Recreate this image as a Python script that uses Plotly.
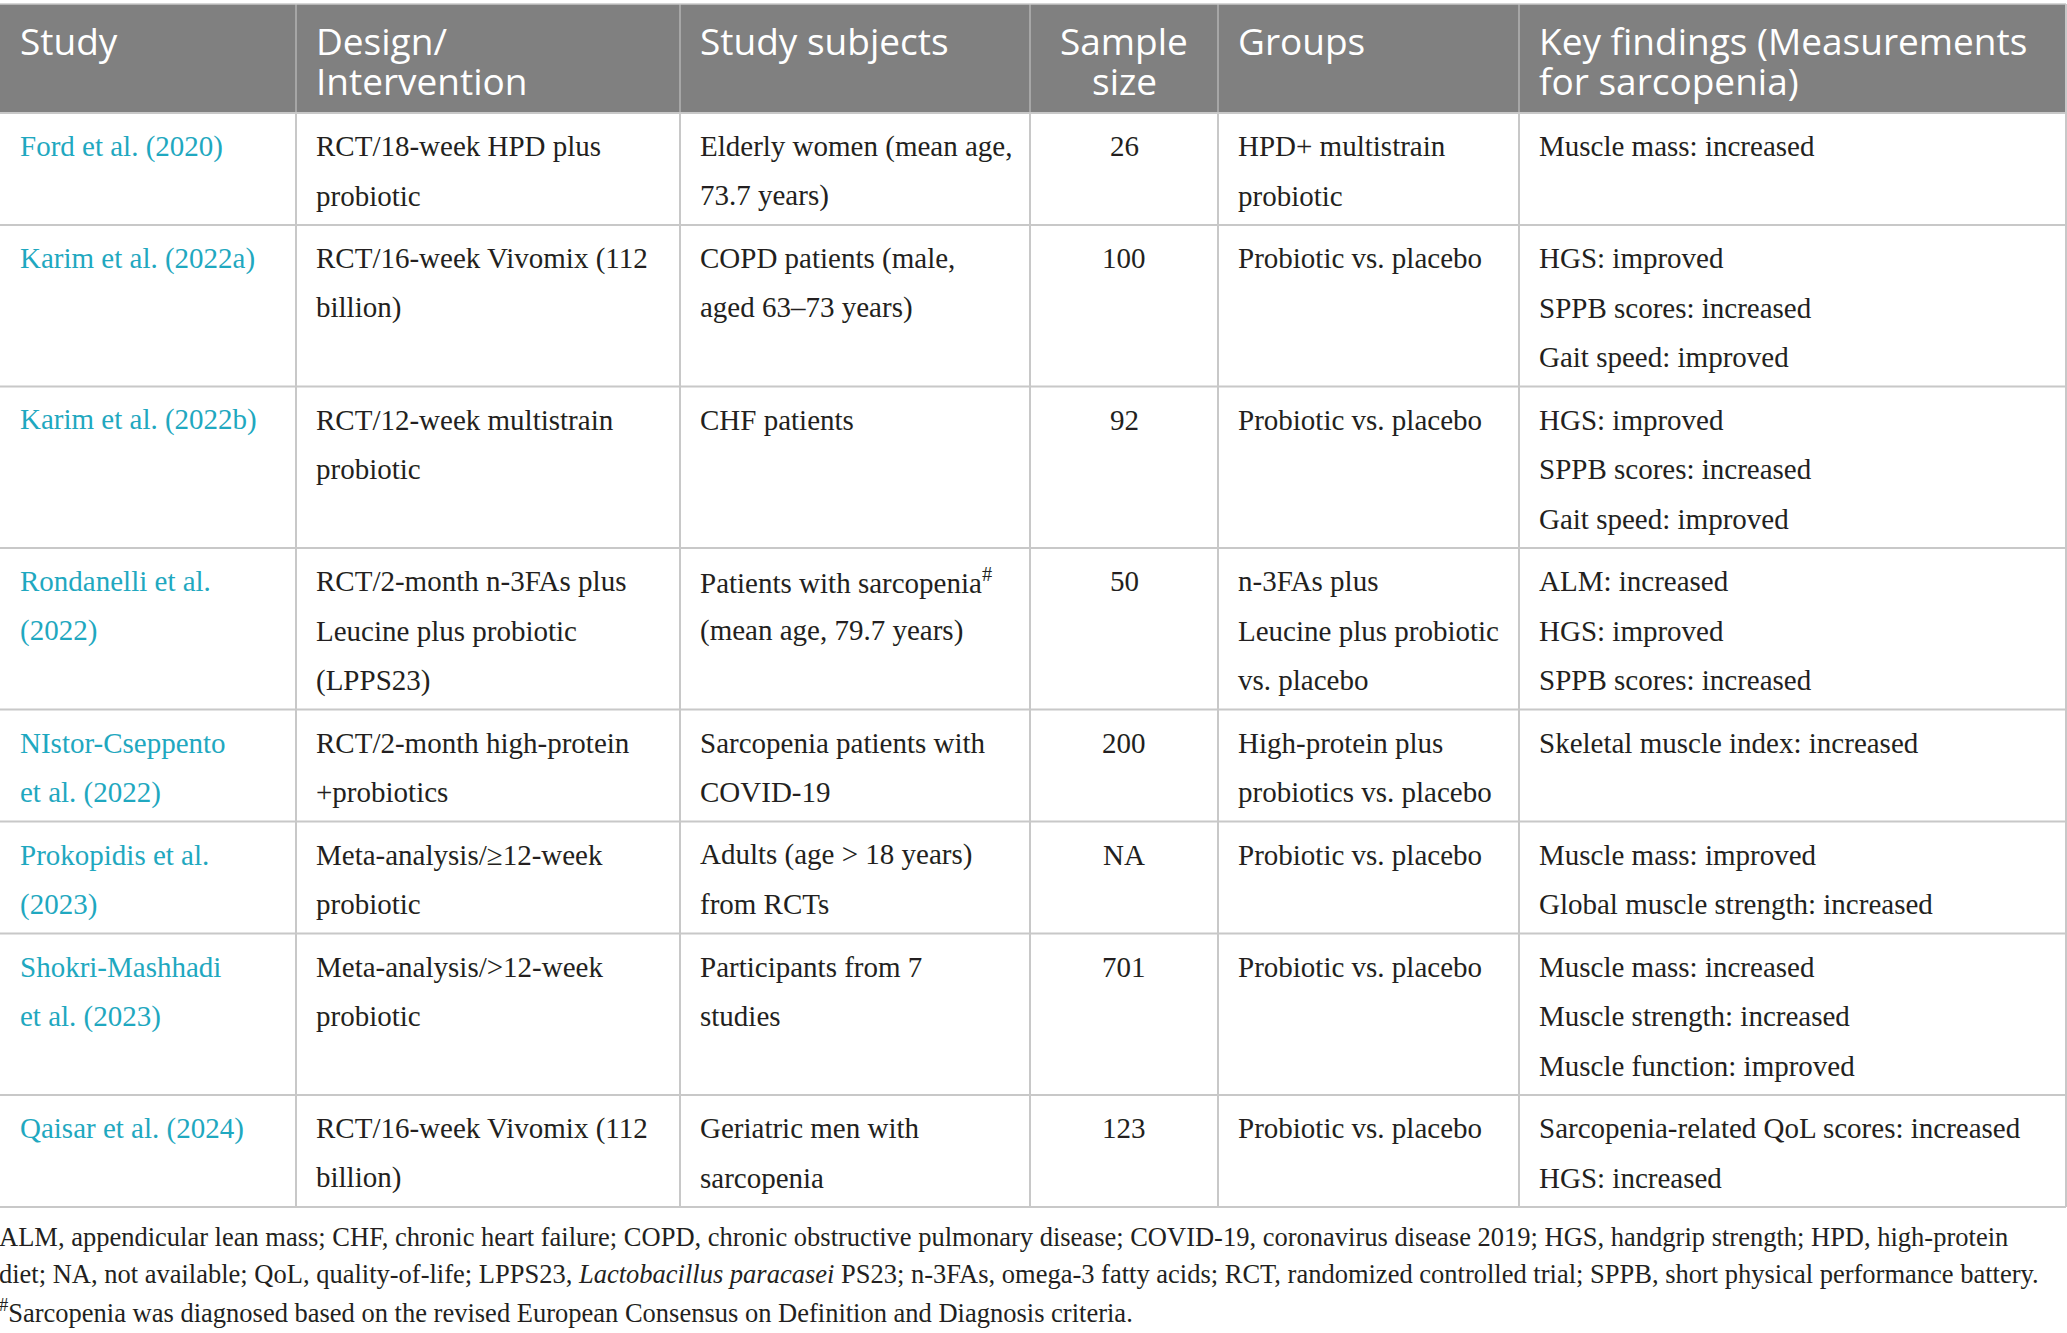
import plotly.graph_objects as go

# table content
headers = ["Study", "Design/<br>Intervention", "Study subjects", "Sample<br>size", "Groups",
           "Key findings (Measurements<br>for sarcopenia)"]
studies = ["Ford et al. (2020)", "Karim et al. (2022a)", "Karim et al. (2022b)",
           "Rondanelli et al.<br>(2022)", "NIstor-Cseppento<br>et al. (2022)",
           "Prokopidis et al.<br>(2023)", "Shokri-Mashhadi<br>et al. (2023)", "Qaisar et al. (2024)"]
designs = ["RCT/18-week HPD plus<br>probiotic", "RCT/16-week Vivomix (112<br>billion)",
           "RCT/12-week multistrain<br>probiotic",
           "RCT/2-month n-3FAs plus<br>Leucine plus probiotic<br>(LPPS23)",
           "RCT/2-month high-protein<br>+probiotics", "Meta-analysis/≥12-week<br>probiotic",
           "Meta-analysis/>12-week<br>probiotic", "RCT/16-week Vivomix (112<br>billion)"]
subjects = ["Elderly women (mean age,<br>73.7 years)", "COPD patients (male,<br>aged 63–73 years)",
            "CHF patients", "Patients with sarcopenia<sup>#</sup><br>(mean age, 79.7 years)",
            "Sarcopenia patients with<br>COVID-19", "Adults (age > 18 years)<br>from RCTs",
            "Participants from 7<br>studies", "Geriatric men with<br>sarcopenia"]
sample_sizes = ["26", "100", "92", "50", "200", "NA", "701", "123"]
groups = ["HPD+ multistrain<br>probiotic", "Probiotic vs. placebo", "Probiotic vs. placebo",
          "n-3FAs plus<br>Leucine plus probiotic<br>vs. placebo",
          "High-protein plus<br>probiotics vs. placebo", "Probiotic vs. placebo",
          "Probiotic vs. placebo", "Probiotic vs. placebo"]
findings = ["Muscle mass: increased",
            "HGS: improved<br>SPPB scores: increased<br>Gait speed: improved",
            "HGS: improved<br>SPPB scores: increased<br>Gait speed: improved",
            "ALM: increased<br>HGS: improved<br>SPPB scores: increased",
            "Skeletal muscle index: increased",
            "Muscle mass: improved<br>Global muscle strength: increased",
            "Muscle mass: increased<br>Muscle strength: increased<br>Muscle function: improved",
            "Sarcopenia-related QoL scores: increased<br>HGS: increased"]
footnotes = [
    "ALM, appendicular lean mass; CHF, chronic heart failure; COPD, chronic obstructive pulmonary disease; "
    "COVID-19, coronavirus disease 2019; HGS, handgrip strength; HPD, high-protein",
    "diet; NA, not available; QoL, quality-of-life; LPPS23, <i>Lactobacillus paracasei</i> PS23; "
    "n-3FAs, omega-3 fatty acids; RCT, randomized controlled trial; SPPB, short physical performance battery.",
    "<sup>#</sup>Sarcopenia was diagnosed based on the revised European Consensus on Definition and Diagnosis criteria.",
]

columns = [studies, designs, subjects, sample_sizes, groups, findings]

W, H = 2067, 1333
col_edges = [0, 296, 680, 1030, 1218, 1519, 2066]
col_align = ["left", "left", "left", "center", "left", "left"]
header_top, header_bottom = 4, 113
line_h = 49.5
pad_x = 18
header_gray = "#808080"
grid = "#c8c8c8"
link = "#1fa8c0"

fig = go.Figure()
shapes = []
ann = []

# header
shapes.append(dict(type="rect", x0=0, x1=col_edges[-1], y0=header_top, y1=header_bottom,
                   fillcolor=header_gray, line=dict(width=0), layer="below"))
for c, txt in enumerate(headers):
    for i, part in enumerate(txt.split("<br>")):
        if col_align[c] == "center":
            x, xa = (col_edges[c] + col_edges[c + 1]) / 2, "center"
        else:
            x, xa = col_edges[c] + pad_x, "left"
        ann.append(dict(x=x, y=40 + 40 * i, text=part, xanchor=xa, yanchor="middle",
                        font=dict(family="Open Sans", size=37, color="white")))
for xe in col_edges[1:-1]:
    shapes.append(dict(type="line", x0=xe, x1=xe, y0=header_top, y1=header_bottom,
                       line=dict(color="#a6a6a6", width=2)))

# body rows
y = header_bottom
row_edges = [y]
for r in range(len(studies)):
    n_lines = max(len(col[r].split("<br>")) for col in columns)
    h = 13 + line_h * n_lines
    for c, col in enumerate(columns):
        color = link if c == 0 else "#231f20"
        for i, part in enumerate(col[r].split("<br>")):
            if col_align[c] == "center":
                x, xa = (col_edges[c] + col_edges[c + 1]) / 2, "center"
            else:
                x, xa = col_edges[c] + pad_x, "left"
            ann.append(dict(x=x, y=y + 33 + line_h * i, text=part, xanchor=xa, yanchor="middle",
                            font=dict(family="Liberation Serif", size=29, color=color)))
    y += h
    row_edges.append(y)

for ye in row_edges:
    shapes.append(dict(type="line", x0=0, x1=col_edges[-1], y0=ye, y1=ye,
                       line=dict(color=grid, width=2)))
for xe in col_edges[1:]:
    shapes.append(dict(type="line", x0=xe, x1=xe, y0=header_bottom, y1=row_edges[-1],
                       line=dict(color=grid, width=2)))
shapes.append(dict(type="line", x0=0, x1=col_edges[-1], y0=header_top, y1=header_top,
                   line=dict(color=grid, width=1.5)))
shapes.append(dict(type="line", x0=col_edges[-1], x1=col_edges[-1], y0=header_top, y1=header_bottom,
                   line=dict(color=grid, width=2)))

# footnotes
for i, txt in enumerate(footnotes):
    ann.append(dict(x=0, xshift=-3, y=1237 + 37 * i, text=txt, xanchor="left", yanchor="middle",
                    font=dict(family="Liberation Serif", size=26.5, color="#231f20")))

for a in ann:
    a.update(xref="x", yref="y", showarrow=False)

fig.update_layout(
    width=W, height=H,
    margin=dict(l=0, r=0, t=0, b=0),
    paper_bgcolor="white", plot_bgcolor="white",
    xaxis=dict(range=[0, W], visible=False, fixedrange=True),
    yaxis=dict(range=[H, 0], visible=False, fixedrange=True),
    shapes=shapes, annotations=ann,
    showlegend=False,
)

fig.write_html("out.html", config={"displayModeBar": False},
               post_script="document.body.style.margin='0';document.body.style.overflow='hidden';")
